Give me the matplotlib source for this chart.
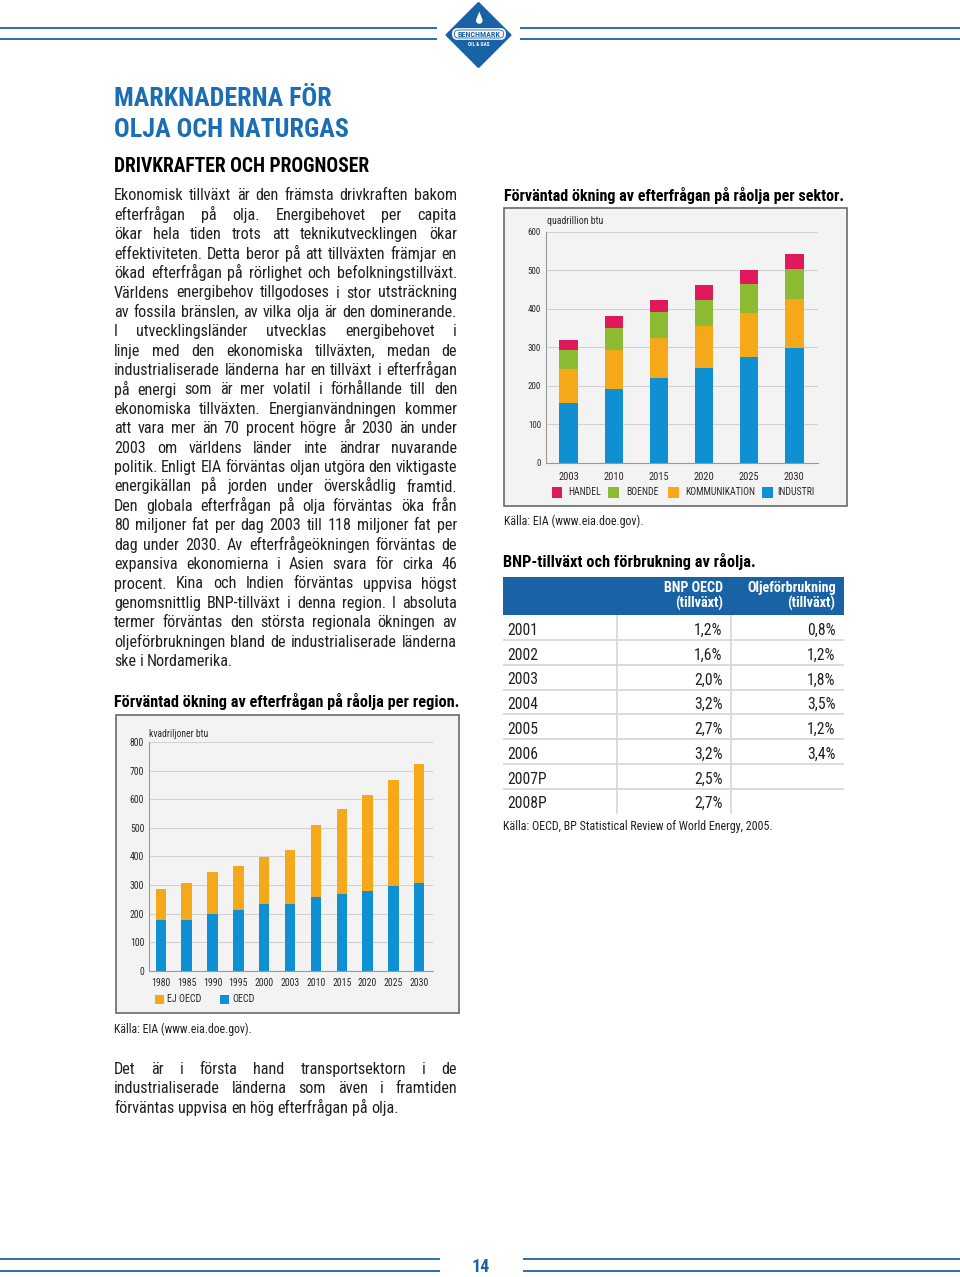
import numpy as np
import matplotlib
matplotlib.use('Agg')
import matplotlib.pyplot as plt
from matplotlib import font_manager as fm
from matplotlib.transforms import Affine2D
from matplotlib.patches import Rectangle, Polygon, FancyBboxPatch
from matplotlib.lines import Line2D

W, H = 960, 1277

# ---------------- data ----------------
region_years = ['1980', '1985', '1990', '1995', '2000', '2003', '2010', '2015', '2020', '2025', '2030']
region_oecd = [177, 177, 197, 212, 233, 233, 257, 268, 280, 296, 308]
region_non_oecd = [108, 131, 149, 155, 166, 189, 253, 296, 336, 371, 415]
region_legend = ['EJ OECD', 'OECD']
region_unit = 'kvadriljoner btu'
region_yticks = [0, 100, 200, 300, 400, 500, 600, 700, 800]

sector_years = ['2003', '2010', '2015', '2020', '2025', '2030']
sector_industri = [156, 192, 220, 247, 274, 298]
sector_kommunikation = [88, 101, 105, 108, 115, 126]
sector_boende = [50, 58, 66, 68, 74, 78]
sector_handel = [25, 31, 31, 38, 37, 40]
sector_legend = ['HANDEL', 'BOENDE', 'KOMMUNIKATION', 'INDUSTRI']
sector_unit = 'quadrillion btu'
sector_yticks = [0, 100, 200, 300, 400, 500, 600]

table_header = ['', 'BNP OECD\n(tillväxt)', 'Oljeförbrukning\n(tillväxt)']
table_years = ['2001', '2002', '2003', '2004', '2005', '2006', '2007P', '2008P']
table_bnp = ['1,2%', '1,6%', '2,0%', '3,2%', '2,7%', '3,2%', '2,5%', '2,7%']
table_olja = ['0,8%', '1,2%', '1,8%', '3,5%', '1,2%', '3,4%', '', '']

title_lines = ['MARKNADERNA FÖR', 'OLJA OCH NATURGAS']
subtitle = 'DRIVKRAFTER OCH PROGNOSER'
body1 = [
    'Ekonomisk tillväxt är den främsta drivkraften bakom',
    'efterfrågan på olja. Energibehovet per capita',
    'ökar hela tiden trots att teknikutvecklingen ökar',
    'effektiviteten. Detta beror på att tillväxten främjar en',
    'ökad efterfrågan på rörlighet och befolkningstillväxt.',
    'Världens energibehov tillgodoses i stor utsträckning',
    'av fossila bränslen, av vilka olja är den dominerande.',
    'I utvecklingsländer utvecklas energibehovet i',
    'linje med den ekonomiska tillväxten, medan de',
    'industrialiserade länderna har en tillväxt i efterfrågan',
    'på energi som är mer volatil i förhållande till den',
    'ekonomiska tillväxten. Energianvändningen kommer',
    'att vara mer än 70 procent högre år 2030 än under',
    '2003 om världens länder inte ändrar nuvarande',
    'politik. Enligt EIA förväntas oljan utgöra den viktigaste',
    'energikällan på jorden under överskådlig framtid.',
    'Den globala efterfrågan på olja förväntas öka från',
    '80 miljoner fat per dag 2003 till 118 miljoner fat per',
    'dag under 2030. Av efterfrågeökningen förväntas de',
    'expansiva ekonomierna i Asien svara för cirka 46',
    'procent. Kina och Indien förväntas uppvisa högst',
    'genomsnittlig BNP-tillväxt i denna region. I absoluta',
    'termer förväntas den största regionala ökningen av',
    'oljeförbrukningen bland de industrialiserade länderna',
    'ske i Nordamerika.',
]
body2 = [
    'Det är i första hand transportsektorn i de',
    'industrialiserade länderna som även i framtiden',
    'förväntas uppvisa en hög efterfrågan på olja.',
]
region_title = 'Förväntad ökning av efterfrågan på råolja per region.'
sector_title = 'Förväntad ökning av efterfrågan på råolja per sektor.'
table_title = 'BNP-tillväxt och förbrukning av råolja.'
source_eia = 'Källa: EIA (www.eia.doe.gov).'
source_oecd = 'Källa: OECD, BP Statistical Review of World Energy, 2005.'
page_number = '14'

# ---------------- style ----------------
avail = {f.name for f in fm.fontManager.ttflist}
def pick(cands, default):
    for c in cands:
        if c in avail:
            return c
    return default
COND = pick(['Liberation Sans Narrow', 'Roboto Condensed', 'Open Sans Condensed'], 'Liberation Sans')
FAM = [COND, 'DejaVu Sans']
plt.rcParams['font.family'] = FAM

TXT = '#231f20'
TITLE_BLUE = '#1b6db4'
DARK_BLUE = '#1a62a6'
C_BLUE = '#0e90d2'
C_ORANGE = '#f6a81b'
C_GREEN = '#8cba30'
C_RED = '#e0185c'
BOX_BG = '#f3f3f3'
BOX_EDGE = '#6a6a6a'
GRID = '#d2d2d2'
TICK_C = '#2a2a2a'
SMALL_SCALE = 1.22

fig = plt.figure(figsize=(W / 100, H / 100), dpi=100)
fig.patch.set_facecolor('white')
PX = Affine2D().scale(1 / W, -1 / H).translate(0, 1) + fig.transFigure
renderer = fig.canvas.get_renderer()


def measure(s, fs, weight='normal'):
    t = fig.text(0, 0, s, fontsize=fs, family=FAM, weight=weight)
    w = t.get_window_extent(renderer).width
    t.remove()
    return w


def fit_fs(s, width, weight='normal'):
    return 10.0 * width / measure(s, 10.0, weight)


def ptext(x, y, s, fs, weight='normal', color=TXT, ha='left', va='baseline', **kw):
    return fig.text(x, y, s, transform=PX, fontsize=fs, family=FAM, weight=weight,
                    color=color, ha=ha, va=va, **kw)


def hline(x0, x1, y, color, lw):
    fig.add_artist(Line2D([x0, x1], [y, y], transform=PX, color=color, lw=lw,
                          solid_capstyle='butt'))


def vline(x, y0, y1, color, lw):
    fig.add_artist(Line2D([x, x], [y0, y1], transform=PX, color=color, lw=lw,
                          solid_capstyle='butt'))


# ---------------- header / footer ----------------
for y in (27.7, 39.0):
    hline(0, 437, y, DARK_BLUE, 1.3)
    hline(520, 960, y, DARK_BLUE, 1.3)
for y in (1259.0, 1271.0):
    hline(0, 440, y, DARK_BLUE, 1.3)
    hline(523, 960, y, DARK_BLUE, 1.3)
ptext(481, 1271.5, page_number, 13, weight='bold', color=DARK_BLUE, ha='center')

# logo
cx, cy = 478.5, 35.0
fig.add_artist(Polygon([(cx, 3), (cx + 32, cy), (cx, 67), (cx - 32, cy)], closed=True,
                       transform=PX, fc=DARK_BLUE, ec=DARK_BLUE, lw=1.5, joinstyle='round'))
fig.add_artist(FancyBboxPatch((452.5, 28.5), 53, 11, boxstyle='round,pad=0,rounding_size=5',
                              transform=PX, fc='white', ec='white', lw=0.5))
fig.add_artist(FancyBboxPatch((454.3, 30.0), 49.4, 8, boxstyle='round,pad=0,rounding_size=4',
                              transform=PX, fc='none', ec=DARK_BLUE, lw=0.6))
ptext(cx + 0.5, 34.3, 'BENCHMARK', fit_fs('BENCHMARK', 42, 'bold'), weight='bold',
      color=DARK_BLUE, ha='center', va='center')
ptext(cx + 0.5, 44.5, 'OIL & GAS', 3.8, weight='bold', color='white', ha='center', va='center')
r = 3.3
dcx, dcy = cx + 0.8, 20.5
a = np.arcsin(1 / 2.7)
t = np.linspace(-a, np.pi + a, 40)
drop = [(dcx, dcy - 2.7 * r)] + [(dcx + r * np.cos(tt), dcy + r * np.sin(tt)) for tt in t]
fig.add_artist(Polygon(drop, closed=True, transform=PX, fc='white', ec='none'))

# ---------------- left column text ----------------
fs_title = fit_fs(title_lines[1], 233, 'bold')
ptext(114, 106.5, title_lines[0], fs_title, weight='bold', color=TITLE_BLUE)
ptext(114, 137.0, title_lines[1], fs_title, weight='bold', color=TITLE_BLUE)
ptext(114, 171.5, subtitle, fit_fs(subtitle, 254, 'bold'), weight='bold', color='black')

X0, X1 = 114.0, 457.0


def body_fs():
    base = 10.0
    sp = measure('a a', base) - measure('aa', base)
    worst = 0
    for lines in (body1, body2):
        for ln in lines[:-1]:
            ws = [measure(w, base) for w in ln.split(' ')]
            worst = max(worst, sum(ws) + (len(ws) - 1) * sp)
    return base * (X1 - X0) / worst


def justify(lines, base0, step, fs):
    sp = measure('a a', fs) - measure('aa', fs)
    for i, ln in enumerate(lines):
        words = ln.split(' ')
        ws = [measure(w, fs) for w in words]
        y = base0 + i * step
        if i == len(lines) - 1 or len(words) == 1:
            gap = sp
        else:
            gap = (X1 - X0 - sum(ws)) / (len(words) - 1)
        x = X0
        for w, wd in zip(words, ws):
            ptext(x, y, w, fs)
            x += wd + gap


FS_BODY = body_fs()
justify(body1, 200.5, 19.4, FS_BODY)
justify(body2, 1074.0, 19.4, FS_BODY)

# ---------------- region chart ----------------
ptext(114, 707, region_title, fit_fs(region_title, 343, 'bold'), weight='bold', color='black')
fig.add_artist(Rectangle((116, 715), 343, 298, transform=PX, fc=BOX_BG, ec=BOX_EDGE, lw=1.2, zorder=-5))
ptext(113.5, 1033, source_eia, fit_fs(source_eia, 137), color=TXT)


def axes_px(l, t, r, b):
    return fig.add_axes([l / W, 1 - b / H, (r - l) / W, (b - t) / H])


def style_axes(ax, yticks, ytick_fs, xtick_fs, xpad, ypad):
    ax.set_facecolor('none')
    for s in ('top', 'right'):
        ax.spines[s].set_visible(False)
    for s in ('left', 'bottom'):
        ax.spines[s].set_color('#9a9a9a')
        ax.spines[s].set_linewidth(0.8)
    ax.set_yticks(yticks)
    ax.grid(axis='y', color=GRID, lw=0.8)
    ax.set_axisbelow(True)
    ax.tick_params(axis='y', length=0, pad=ypad, labelsize=ytick_fs, labelcolor=TICK_C)
    ax.tick_params(axis='x', length=0, pad=xpad, labelsize=xtick_fs, labelcolor=TICK_C)


ax1 = axes_px(149, 742, 432.7, 970.7)
xr = np.arange(len(region_years))
ax1.bar(xr, region_oecd, width=0.4, color=C_BLUE, zorder=2)
ax1.bar(xr, region_non_oecd, bottom=region_oecd, width=0.4, color=C_ORANGE, zorder=2)
ax1.set_xlim(-0.457, len(region_years) - 1 + 0.52)
ax1.set_ylim(region_yticks[0], region_yticks[-1])
style_axes(ax1, region_yticks, SMALL_SCALE * fit_fs('800', 11.7),
           SMALL_SCALE * fit_fs('1980', 15.7), 5.0, 3.5)
ax1.set_xticks(xr)
ax1.set_xticklabels(region_years)
ptext(149, 734, region_unit, 1.1 * fit_fs(region_unit, 53), color=TICK_C, va='center')
fs_leg1 = 1.15 * fit_fs('EJ OECD', 30)
for (lx, tx), lab, col in zip([(155, 167), (220, 232)], region_legend, [C_ORANGE, C_BLUE]):
    fig.add_artist(Rectangle((lx, 994.5), 9, 9, transform=PX, fc=col, ec='none'))
    ptext(tx, 999, lab, fs_leg1, color=TICK_C, va='center')

# ---------------- sector chart ----------------
ptext(503.5, 201, sector_title, fit_fs(sector_title, 340, 'bold'), weight='bold', color='black')
fig.add_artist(Rectangle((504, 207.5), 343, 298.5, transform=PX, fc=BOX_BG, ec=BOX_EDGE, lw=1.2, zorder=-5))
ptext(503.5, 525.5, source_eia, fit_fs(source_eia, 138), color=TXT)

ax2 = axes_px(545.7, 231.7, 818, 462.7)
xs = np.arange(len(sector_years))
stack = [sector_industri, sector_kommunikation, sector_boende, sector_handel]
cols = [C_BLUE, C_ORANGE, C_GREEN, C_RED]
bottom = np.zeros(len(sector_years))
for vals, col in zip(stack, cols):
    ax2.bar(xs, vals, bottom=bottom, width=0.41, color=col, zorder=2)
    bottom = bottom + np.array(vals)
ax2.set_xlim(-0.51, len(sector_years) - 1 + 0.525)
ax2.set_ylim(sector_yticks[0], sector_yticks[-1])
style_axes(ax2, sector_yticks, SMALL_SCALE * fit_fs('600', 10.8),
           SMALL_SCALE * fit_fs('2003', 16.7), 6.6, 3.4)
ax2.set_xticks(xs)
ax2.set_xticklabels(sector_years)
ptext(547, 221, sector_unit, 1.1 * fit_fs(sector_unit, 51), color=TICK_C, va='center')
leg_pos = [(551.7, 568), (608, 626), (668, 685), (762, 777)]
leg_cols = [C_RED, C_GREEN, C_ORANGE, C_BLUE]
fs_leg2 = 1.08 * fit_fs('KOMMUNIKATION', 65)
for (lx, tx), lab, col in zip(leg_pos, sector_legend, leg_cols):
    fig.add_artist(Rectangle((lx, 487), 10.5, 10.5, transform=PX, fc=col, ec='none'))
    ptext(tx, 492.3, lab, fs_leg2, color=TICK_C, va='center')

# ---------------- table ----------------
ptext(503, 567, table_title, fit_fs(table_title, 252, 'bold'), weight='bold', color='black')
fig.add_artist(Rectangle((503, 577), 341, 38, transform=PX, fc=DARK_BLUE, ec='none'))
fs_head = fit_fs('Oljeförbrukning', 89, 'bold')
for txt, xr_ in zip(table_header[1:], [722.7, 835.5]):
    l1, l2 = txt.split('\n')
    ptext(xr_, 591.7, l1, fs_head, weight='bold', color='white', ha='right')
    ptext(xr_, 607.5, l2, fs_head, weight='bold', color='white', ha='right')
fs_row = fit_fs('2007P', 39.3)
row0, rstep = 635.0, 24.75
n = len(table_years)
for i in range(n):
    y = row0 + i * rstep
    ptext(507.5, y, table_years[i], fs_row)
    ptext(722.7, y, table_bnp[i], fs_row, ha='right')
    if table_olja[i]:
        ptext(835.5, y, table_olja[i], fs_row, ha='right')
    if i < n - 1:
        hline(503, 844, y + 5.0, '#d6d6d6', 1.2)
vline(616.5, 615, row0 + (n - 1) * rstep + 6, '#d6d6d6', 1.2)
vline(730.5, 615, row0 + (n - 1) * rstep + 6, '#d6d6d6', 1.2)
ptext(503, 830, source_oecd, fit_fs(source_oecd, 269), color=TXT)

fig.savefig('out.png', dpi=100, facecolor='white')
